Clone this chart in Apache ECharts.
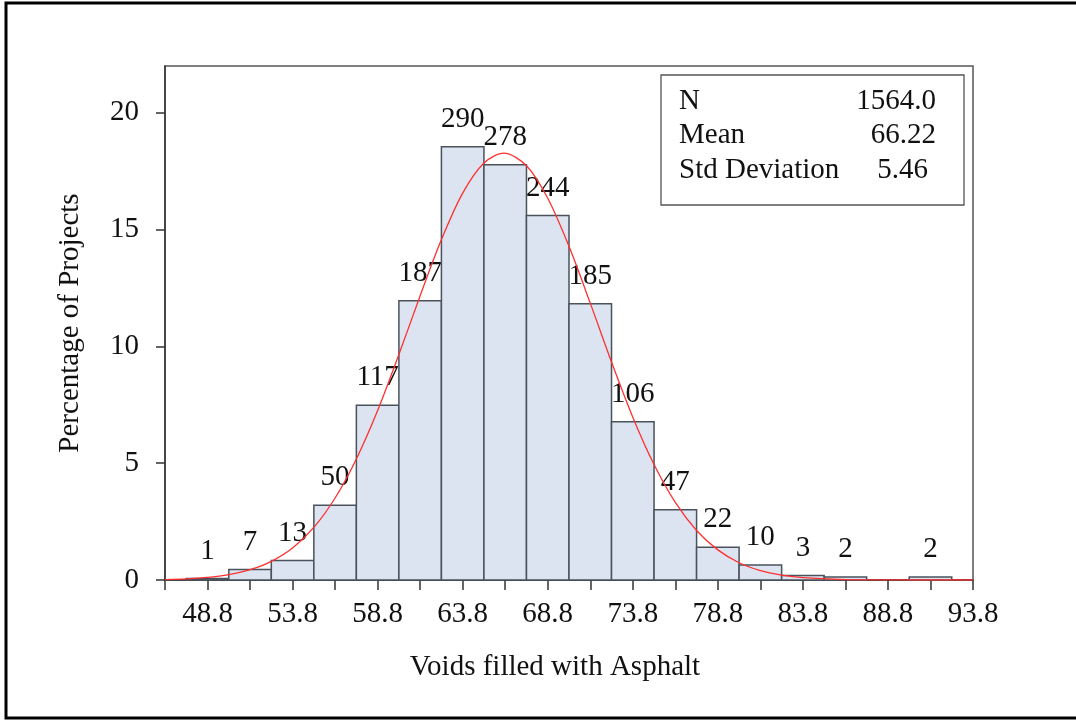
<!DOCTYPE html>
<html>
<head>
<meta charset="utf-8">
<title>Voids filled with Asphalt</title>
<script src="https://cdn.jsdelivr.net/npm/echarts@6/dist/echarts.min.js"></script>
<style>
  html, body { margin: 0; padding: 0; background: #fff; }
  #chart { width: 1076px; height: 721px; }
</style>
</head>
<body>
<div id="chart"></div>
<script>
// Histogram bins (centre of each 2.5-wide bin) and project counts
const binCenters = [48.8, 51.3, 53.8, 56.3, 58.8, 61.3, 63.8, 66.3, 68.8, 71.3, 73.8, 76.3, 78.8, 81.3, 83.8, 86.3, 88.8, 91.3];
const counts = [1, 7, 13, 50, 117, 187, 290, 278, 244, 185, 106, 47, 22, 10, 3, 2, 0, 2];
const binWidth = 2.5;

// Summary statistics shown in the inset box
const statLabels = ['N', 'Mean', 'Std Deviation'];
const statValues = ['1564.0', '66.22', '5.46'];
const totalN = 1564;

// Fitted normal curve (percent of projects per bin)
const curveX = [46.3, 47.55, 48.8, 50.05, 51.3, 52.55, 53.8, 55.05, 56.3, 57.55, 58.8, 60.05, 61.3, 62.55, 63.8, 65.05, 66.22,
                67.55, 68.8, 70.05, 71.3, 72.55, 73.8, 75.05, 76.3, 77.55, 78.8, 80.05, 81.3, 82.55, 83.8, 86.3, 88.8, 93.8];
const curveY = [0.02, 0.05, 0.11, 0.23, 0.44, 0.80, 1.37, 2.25, 3.51, 5.18, 7.25, 9.65, 12.17, 14.57, 16.56, 17.85, 18.27,
                17.73, 16.34, 14.28, 11.85, 9.33, 6.97, 4.94, 3.32, 2.12, 1.29, 0.74, 0.40, 0.21, 0.10, 0.02, 0.003, 0];

// Axis ticks and labels
const xTicks = [46.3, 48.8, 51.3, 53.8, 56.3, 58.8, 61.3, 63.8, 66.3, 68.8, 71.3, 73.8, 76.3, 78.8, 81.3, 83.8, 86.3, 88.8, 91.3, 93.8];
const xLabels = [48.8, 53.8, 58.8, 63.8, 68.8, 73.8, 78.8, 83.8, 88.8, 93.8];
const yTicks = [0, 5, 10, 15, 20];

const FONT = '"Liberation Serif", "Times New Roman", serif';
const chart = echarts.init(document.getElementById('chart'), null, { renderer: 'canvas' });

const barData = binCenters.map((c, i) => [c, counts[i] / totalN * 100, counts[i]]);
const curveData = curveX.map((x, i) => [x, curveY[i]]);

const option = {
  backgroundColor: '#ffffff',
  animation: false,
  grid: {
    left: 165, right: 103, top: 66, bottom: 141,
    show: true, borderColor: '#555', borderWidth: 1.5, backgroundColor: 'transparent'
  },
  xAxis: {
    type: 'value',
    min: 46.3, max: 93.8,
    name: 'Voids filled with Asphalt',
    nameLocation: 'middle',
    nameGap: 73,
    nameTextStyle: { fontFamily: FONT, fontSize: 29, color: '#111', padding: [0, 28, 0, 0] },
    axisLine: { lineStyle: { color: '#333', width: 1.5 } },
    axisTick: { customValues: xTicks, length: 10, lineStyle: { color: '#333', width: 1.5 } },
    axisLabel: {
      customValues: xLabels, margin: 20,
      fontFamily: FONT, fontSize: 29, color: '#111',
      formatter: v => v.toFixed(1)
    },
    splitLine: { show: false }
  },
  yAxis: {
    type: 'value',
    min: 0, max: 22,
    name: 'Percentage of Projects',
    nameLocation: 'middle',
    nameGap: 80,
    nameTextStyle: { fontFamily: FONT, fontSize: 29, color: '#111' },
    axisLine: { show: true, lineStyle: { color: '#333', width: 1.5 } },
    axisTick: { show: true, customValues: yTicks, length: 9, lineStyle: { color: '#333', width: 1.5 } },
    axisLabel: { customValues: yTicks, margin: 26, fontFamily: FONT, fontSize: 29, color: '#111' },
    splitLine: { show: false }
  },
  series: [
    {
      type: 'custom',
      data: barData,
      encode: { x: 0, y: 1 },
      z: 2,
      renderItem: function (params, api) {
        const c = api.value(0), p = api.value(1), n = api.value(2);
        if (!n) return null;
        const tl = api.coord([c - binWidth / 2, p]);
        const br = api.coord([c + binWidth / 2, 0]);
        return {
          type: 'group',
          children: [
            {
              type: 'rect',
              shape: { x: tl[0], y: tl[1], width: br[0] - tl[0], height: br[1] - tl[1] },
              style: { fill: '#dbe4f0', stroke: '#4a525c', lineWidth: 1.5 }
            },
            {
              type: 'text',
              x: (tl[0] + br[0]) / 2,
              y: tl[1] - 13,
              style: { text: String(n), font: '29px ' + FONT, fill: '#111', align: 'center', verticalAlign: 'bottom' }
            }
          ]
        };
      }
    },
    {
      type: 'line',
      data: curveData,
      smooth: 0.3,
      showSymbol: false,
      z: 5,
      lineStyle: { color: '#ff3030', width: 1.3 }
    }
  ],
  graphic: [
    // outer frame
    { type: 'polyline', z: 10, shape: { points: [[1080, 3], [6, 3], [6, 718], [1080, 718]] },
      style: { stroke: '#000', lineWidth: 3, fill: null } },
    // statistics inset
    { type: 'rect', z: 10, shape: { x: 661, y: 75, width: 303, height: 130 },
      style: { fill: '#fff', stroke: '#555', lineWidth: 1.3 } },
    ...statLabels.map((t, i) => ({
      type: 'text', z: 11, x: 679, y: 101 + i * 34.5,
      style: { text: t, font: '29px ' + FONT, fill: '#111', align: 'left', verticalAlign: 'middle' }
    })),
    ...statValues.map((t, i) => ({
      type: 'text', z: 11, x: i === 2 ? 928 : 936, y: 101 + i * 34.5,
      style: { text: t, font: '29px ' + FONT, fill: '#111', align: 'right', verticalAlign: 'middle' }
    }))
  ]
};

chart.setOption(option);
</script>
</body>
</html>
